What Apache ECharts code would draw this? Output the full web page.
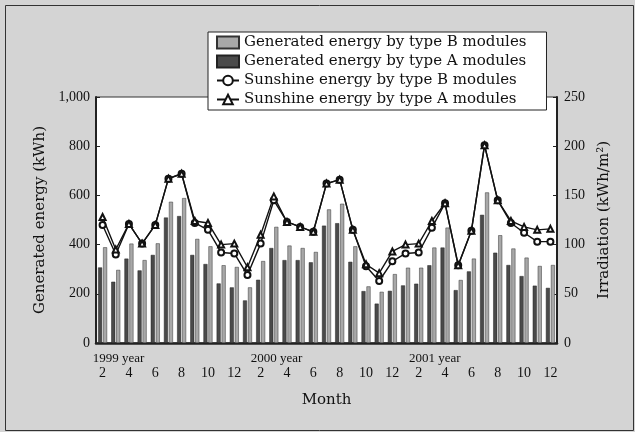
<html>
<head>
  <meta charset="utf-8" />
  <script src="https://cdn.jsdelivr.net/npm/echarts@6/dist/echarts.min.js"></script>
  <style>
    html, body { margin: 0; padding: 0; background: #d4d4d4; }
    #chart { width: 635px; height: 432px; }
  </style>
</head>
<body>
  <div id="chart"></div>
  <script>
    // months Feb 1999 .. Dec 2001
    var categories = [
      '1999/2', '1999/3', '1999/4', '1999/5', '1999/6', '1999/7', '1999/8', '1999/9', '1999/10', '1999/11', '1999/12',
      '2000/1', '2000/2', '2000/3', '2000/4', '2000/5', '2000/6', '2000/7', '2000/8', '2000/9', '2000/10', '2000/11', '2000/12',
      '2001/1', '2001/2', '2001/3', '2001/4', '2001/5', '2001/6', '2001/7', '2001/8', '2001/9', '2001/10', '2001/11', '2001/12'
    ];
    // generated energy (kWh)
    var genA = [307, 249, 343, 295, 358, 510, 516, 358, 321, 242, 226, 173,
                257, 386, 337, 337, 328, 477, 487, 330, 211, 160, 212, 234,
                241, 316, 388, 215, 291, 521, 367, 317, 272, 233, 224];
    var genB = [389, 297, 404, 337, 405, 574, 589, 423, 393, 316, 309, 226,
                333, 472, 396, 386, 370, 543, 566, 393, 230, 208, 280, 306,
                306, 388, 469, 256, 343, 612, 438, 384, 347, 313, 317];
    // irradiation (kWh/m2)
    var sunB = [120, 90, 121, 101, 120, 167, 172, 122, 115, 92, 91, 69,
                101, 145, 123, 118, 113, 162, 166, 115, 78, 63, 83, 91,
                92, 117, 142, 79, 114, 201, 145, 122, 112, 103, 103];
    var sunA = [128, 95, 121, 101, 120, 167, 172, 124, 122, 100, 101, 77,
                110, 149, 123, 118, 113, 162, 166, 115, 80, 71, 93, 100,
                101, 124, 142, 79, 114, 201, 145, 124, 118, 115, 116];

    var serif = 'DejaVu Serif';
    var numFont = 'Liberation Serif';

    var chart = echarts.init(document.getElementById('chart'));

    var option = {
      backgroundColor: '#d4d4d4',
      animation: false,
      graphic: [{
        type: 'rect',
        left: 3, top: 3,
        shape: { width: 628, height: 425 },
        style: { fill: 'none', stroke: '#333', lineWidth: 1 },
        silent: true
      }],
      grid: {
        left: 96, right: 78, top: 97, bottom: 89,
        show: true, backgroundColor: '#fff', borderColor: '#333', borderWidth: 1
      },
      legend: {
        orient: 'vertical',
        left: 208, top: 32,
        padding: [3, 20, 3, 8],
        itemGap: 4,
        itemWidth: 22, itemHeight: 12,
        backgroundColor: '#fff',
        borderColor: '#222', borderWidth: 1,
        textStyle: { fontFamily: serif, fontSize: 15, color: '#111' },
        data: [
          { name: 'Generated energy by type B modules', icon: 'rect' },
          { name: 'Generated energy by type A modules', icon: 'rect' },
          'Sunshine energy by type B modules',
          'Sunshine energy by type A modules'
        ]
      },
      xAxis: [{
        type: 'category',
        data: categories,
        name: 'Month',
        nameLocation: 'middle',
        nameGap: 50,
        nameTextStyle: { fontFamily: serif, fontSize: 15, color: '#111' },
        axisLine: { lineStyle: { color: '#222', width: 2.5 } },
        axisTick: { inside: true, length: 3, interval: 0, lineStyle: { color: '#222' } },
        axisLabel: {
          interval: 1,
          margin: 23,
          color: '#111', fontFamily: numFont, fontSize: 14, lineHeight: 15,
          formatter: function (value) { return value.split('/')[1]; }
        }
      }, {
        // year captions under the month numbers
        type: 'category',
        data: categories,
        position: 'bottom',
        axisLine: { show: false },
        axisTick: { show: false },
        axisLabel: {
          interval: 0,
          margin: 8,
          showMinLabel: true,
          formatter: function (value) {
            var p = value.split('/');
            return p[1] === '2' ? '{y|' + p[0] + ' year}' : '';
          },
          rich: {
            y: { fontFamily: numFont, fontSize: 13, lineHeight: 15, padding: [0, 0, 0, 32], color: '#111' }
          }
        }
      }],
      yAxis: [{
        type: 'value',
        min: 0, max: 1000, interval: 200,
        name: 'Generated energy (kWh)',
        nameLocation: 'middle',
        nameRotate: 90,
        nameGap: 47,
        nameTextStyle: { fontFamily: serif, fontSize: 15, color: '#111' },
        splitLine: { show: false },
        axisLine: { show: true, lineStyle: { color: '#222', width: 2 } },
        axisTick: { show: true, inside: true, length: 4, lineStyle: { color: '#222' } },
        axisLabel: {
          margin: 6, color: '#111', fontFamily: numFont, fontSize: 14,
          formatter: function (v) { return v === 1000 ? '1,000' : String(v); }
        }
      }, {
        type: 'value',
        min: 0, max: 250, interval: 50,
        name: 'Irradiation (kWh/m\u00b2)',
        nameLocation: 'middle',
        nameRotate: 90,
        nameGap: 40,
        nameTextStyle: { fontFamily: serif, fontSize: 15, color: '#111' },
        splitLine: { show: false },
        axisLine: { show: true, lineStyle: { color: '#222', width: 2 } },
        axisTick: { show: true, inside: true, length: 4, lineStyle: { color: '#222' } },
        axisLabel: { margin: 7, color: '#111', fontFamily: numFont, fontSize: 14 }
      }],
      series: [{
        name: 'Generated energy by type A modules',
        type: 'bar',
        data: genA,
        barWidth: 4,
        barGap: '25%',
        itemStyle: { color: '#4a4a4a', borderColor: '#222', borderWidth: 0.5 }
      }, {
        name: 'Generated energy by type B modules',
        type: 'bar',
        data: genB,
        barWidth: 4,
        barGap: '25%',
        itemStyle: { color: '#a8a8a8', borderColor: '#333', borderWidth: 0.5 }
      }, {
        name: 'Sunshine energy by type B modules',
        type: 'line',
        yAxisIndex: 1,
        data: sunB,
        symbol: 'emptyCircle',
        symbolSize: 6,
        lineStyle: { color: '#111', width: 1.4 },
        itemStyle: { color: '#111', borderWidth: 1.1 }
      }, {
        name: 'Sunshine energy by type A modules',
        type: 'line',
        yAxisIndex: 1,
        data: sunA,
        symbol: 'emptyTriangle',
        symbolSize: 6,
        lineStyle: { color: '#111', width: 1.4 },
        itemStyle: { color: '#111', borderWidth: 1.1 }
      }]
    };

    chart.setOption(option);
  </script>
</body>
</html>
